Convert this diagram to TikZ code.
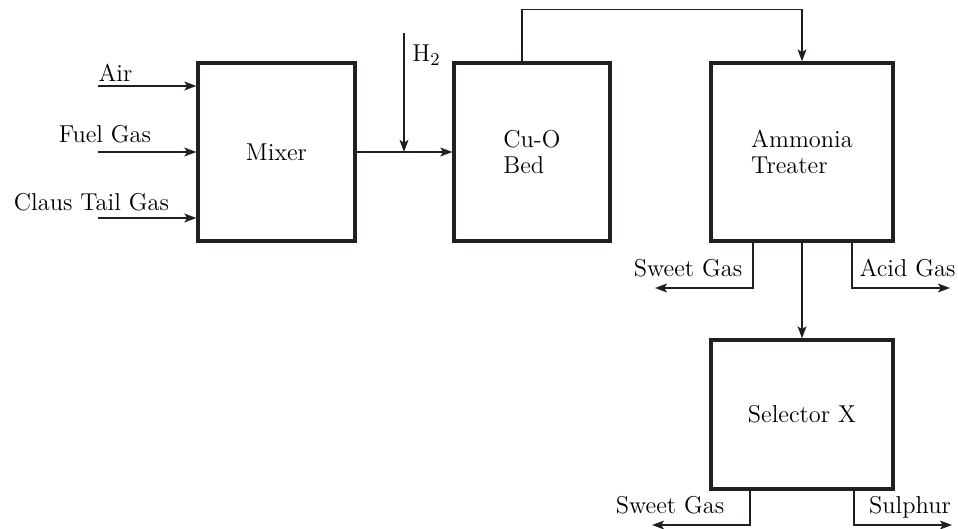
\documentclass[tikz,border=0pt]{standalone}
\usepackage{xcolor}
\usepackage{tikz}
\usetikzlibrary{positioning, arrows.meta, calc}
\definecolor{linegray}{HTML}{231F20}

\begin{document}
\begin{tikzpicture}[x=0.5pt, y=-0.5pt,
    font=\fontsize{12.2}{12.7}\selectfont,
    box/.style={draw=linegray, line width=1.6pt, align=left, inner sep=0pt},
    flow/.style={draw=linegray, line width=0.85pt, -{Stealth[length=6pt, width=4.4pt, inset=1.4pt]}},
    lbl/.style={inner sep=0pt}]
    \useasboundingbox (0,0) rectangle (958,529);

    % process units
    \node[box, minimum width=78.5pt, minimum height=89pt] (mixer) at (276.5,152) {Mixer};
    \node[box, minimum width=78pt, minimum height=89pt] (cuo) at (532,152) {Cu-O\\Bed};
    \node[box, minimum width=91pt, minimum height=89pt] (treater) at (802,152) {Ammonia\\Treater};
    \node[box, minimum width=91pt, minimum height=74.5pt] (selector) at (802,414.5) {Selector X};

    % feeds
    \coordinate (air) at (98,86);
    \coordinate (fuel) at (98,152);
    \coordinate (claus) at (98,218);
    \coordinate (htwo) at (404,33);
    \node[lbl, anchor=base] (airlbl) at (115.5,82) {Air};
    \node[lbl, anchor=base] (fuellbl) at (105,143) {Fuel Gas};
    \node[lbl, anchor=base] (clauslbl) at (91.5,211) {Claus Tail Gas};
    \node[lbl, anchor=base west] (htwolbl) at (412,62) {H$_2$};

    % products
    \coordinate (sweetone) at (655,288);
    \coordinate (acid) at (950,288);
    \coordinate (sweettwo) at (652,525);
    \coordinate (sulphur) at (952,525);
    \node[lbl, anchor=base] (sweetonelbl) at (688,277) {Sweet Gas};
    \node[lbl, anchor=base] (acidlbl) at (907.5,277) {Acid Gas};
    \node[lbl, anchor=base] (sweettwolbl) at (670,513) {Sweet Gas};
    \node[lbl, anchor=base] (sulphurlbl) at (910,513) {Sulphur};

    % connectors
    \draw[flow] (air) -- (air -| mixer.west);
    \draw[flow] (fuel) -- (fuel -| mixer.west);
    \draw[flow] (claus) -- (claus -| mixer.west);
    \draw[flow] (mixer.east) -- (cuo.west);
    \draw[flow] (htwo) -- (htwo |- mixer.east);
    \draw[flow] ([xshift=-5pt]cuo.north) |- ([yshift=26pt]treater.north) -- (treater.north);
    \draw[flow] (treater.south) -- (selector.north);
    \draw[flow] ([xshift=-24.5pt]treater.south) |- (sweetone);
    \draw[flow] ([xshift=25pt]treater.south) |- (acid);
    \draw[flow] ([xshift=-26pt]selector.south) |- (sweettwo);
    \draw[flow] ([xshift=26pt]selector.south) |- (sulphur);
\end{tikzpicture}
\end{document}
